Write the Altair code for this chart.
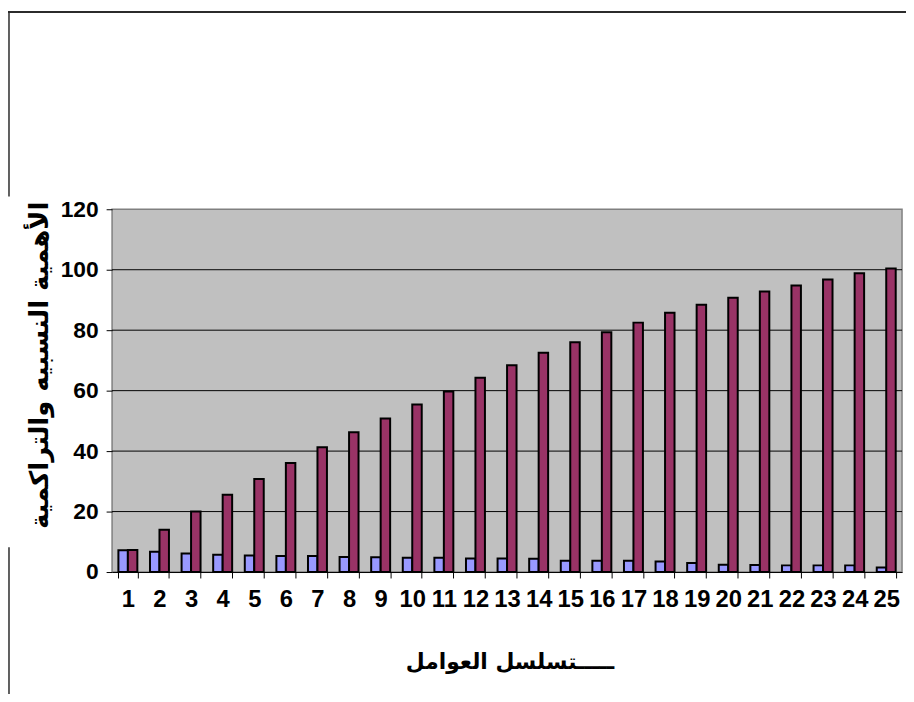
import altair as alt
import pandas as pd

categories = list(range(1, 26))
relative = [7.2, 6.7, 6.1, 5.7, 5.5, 5.3, 5.3, 5.0, 4.9, 4.7, 4.7, 4.5, 4.5,
            4.4, 3.7, 3.7, 3.7, 3.5, 3.0, 2.4, 2.3, 2.2, 2.2, 2.2, 1.5]
cumulative = [7.3, 14.0, 20.0, 25.6, 30.8, 36.1, 41.3, 46.2, 50.8, 55.4, 59.7,
              64.3, 68.4, 72.5, 76.0, 79.3, 82.5, 85.8, 88.4, 90.7, 92.8, 94.8,
              96.8, 98.8, 100.4]
series_names = ["الأهمية النسبية", "الأهمية التراكمية"]
series_colors = ["#9999FF", "#993366"]
y_ticks = [0, 20, 40, 60, 80, 100, 120]
grid_values = [20, 40, 60, 80, 100]

y_title = "الأهمية النسبيه والتراكمية"
x_title = "ـــــتسلسل العوامل"

rows = []
for c, r, cu in zip(categories, relative, cumulative):
    rows.append({"cat": str(c), "series": series_names[0], "order": 0, "value": r})
    rows.append({"cat": str(c), "series": series_names[1], "order": 1, "value": cu})
df = pd.DataFrame(rows)

W, H = 797, 366
label_font = "Liberation Sans Narrow, Arial Narrow, Liberation Sans, Arial, sans-serif"
arabic_font = "DejaVu Sans, Noto Sans, sans-serif"

x_enc = alt.X("cat:N", sort=[str(c) for c in categories],
              scale=alt.Scale(paddingInner=0.4, paddingOuter=0.2),
              axis=alt.Axis(title=x_title, labelAngle=0, tickBand="extent",
                            labelFont=label_font, labelFontSize=24, labelFontWeight="bold",
                            labelColor="black", labelPadding=10,
                            tickColor="black", tickSize=6, domainColor="black",
                            titleFont=arabic_font, titleFontSize=22, titleFontWeight="bold",
                            titleColor="black", titleX=401, titleY=90,
                            titleBaseline="middle", titleAnchor="middle"))
y_enc = alt.Y("value:Q", scale=alt.Scale(domain=[0, 120], nice=False),
              axis=alt.Axis(values=y_ticks, grid=False, title=y_title,
                            labelFont=label_font, labelFontSize=23, labelFontWeight="bold",
                            labelColor="black", labelPadding=8,
                            tickColor="black", tickSize=6, domain=False,
                            titleFont=arabic_font, titleFontSize=26, titleFontWeight="bold",
                            titleColor="black", titleX=-73, titleY=157,
                            titleBaseline="middle", titleAngle=270))

bars = alt.Chart(df).mark_bar(stroke="black", strokeWidth=2).encode(
    x=x_enc,
    y=y_enc,
    xOffset=alt.XOffset("order:O", scale=alt.Scale(paddingInner=0, paddingOuter=0)),
    color=alt.Color("series:N", scale=alt.Scale(domain=series_names, range=series_colors),
                    legend=None),
)

grid = alt.Chart(pd.DataFrame({"g": grid_values})).mark_rule(
    color="black", strokeWidth=1).encode(y=alt.Y("g:Q", scale=alt.Scale(domain=[0, 120])))

one = pd.DataFrame({"a": [0]})
top_line = alt.Chart(one).mark_rule(color="#2b2b2b", strokeWidth=2).encode(
    x=alt.value(-105), x2=alt.value(805), y=alt.value(-199))
left_line1 = alt.Chart(one).mark_rule(color="#2b2b2b", strokeWidth=1.5).encode(
    x=alt.value(-104), y=alt.value(-200), y2=alt.value(-13))
left_line2 = alt.Chart(one).mark_rule(color="#2b2b2b", strokeWidth=1.5).encode(
    x=alt.value(-104), y=alt.value(341), y2=alt.value(490))

chart = alt.layer(grid, bars, top_line, left_line1, left_line2).properties(
    width=W, height=H,
    autosize=alt.AutoSizeParams(type="none"),
    padding={"left": 105, "top": 200, "right": 4, "bottom": 120},
    background="white",
).configure_view(fill="#C0C0C0", stroke="#808080", strokeWidth=1.5)

chart.save("out.html", embed_options={"renderer": "svg", "actions": False})
